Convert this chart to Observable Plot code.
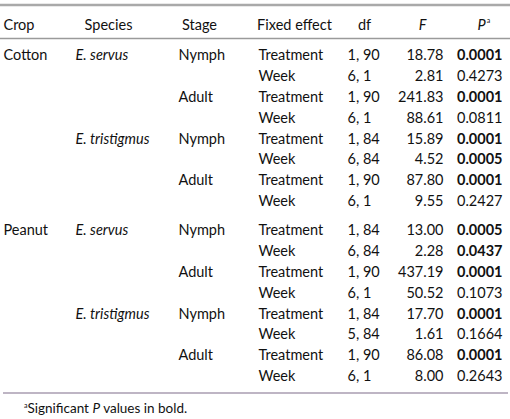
<!DOCTYPE html>
<html>
<head>
<meta charset="utf-8">
<script src="https://cdn.jsdelivr.net/npm/d3@7"></script>
<script src="https://cdn.jsdelivr.net/npm/@observablehq/plot@0.6"></script>
<style>
  html, body { margin: 0; padding: 0; background: #fff; }
  #chart svg { display: block; }
  #note { font-family: Lato, sans-serif; font-size: 13.5px; color: #111; line-height: 16px; padding-left: 24px; }
  #note sup { font-size: 7px; vertical-align: 5px; line-height: 0; }
</style>
</head>
<body>
<div id="chart"></div>
<div id="note"><sup>a</sup>Significant <i>P</i> values in bold.</div>
<script>
// ---- data ----
const headers = ["Crop", "Species", "Stage", "Fixed effect", "df", "F", "P"];
const crops = ["Cotton", "Peanut"];
const species = ["E. servus", "E. tristigmus"];
const stages = ["Nymph", "Adult"];
const effects = ["Treatment", "Week"];
const dfValues = ["1, 90", "6, 1", "1, 90", "6, 1", "1, 84", "6, 84", "1, 90", "6, 1",
                  "1, 84", "6, 84", "1, 90", "6, 1", "1, 84", "5, 84", "1, 90", "6, 1"];
const fValues = [18.78, 2.81, 241.83, 88.61, 15.89, 4.52, 87.80, 9.55,
                 13.00, 2.28, 437.19, 50.52, 17.70, 1.61, 86.08, 8.00];
const pValues = [0.0001, 0.4273, 0.0001, 0.0811, 0.0001, 0.0005, 0.0001, 0.2427,
                 0.0005, 0.0437, 0.0001, 0.1073, 0.0001, 0.1664, 0.0001, 0.2643];
const alpha = 0.05;

// ---- layout (styles / positions) ----
const W = 510;
const cropGap = 0.39;            // extra row-units between crop groups
const col = {crop: 3, species: 75, stage: 178, effect: 258, df: 347, F: 443, P: 502};
const headCenter = {Crop: 3, Species: 108, Stage: 199, "Fixed effect": 294, df: 364, F: 422, P: 481};
const yHeader = -1.45, yTopRule = -2.42, yHeadRule = -0.815, yBottomRule = 16.18;

// ---- build table rows ----
const rows = [];
crops.forEach((c, ci) => species.forEach((s, si) => stages.forEach((g, gi) => effects.forEach((e, ei) => {
  const i = ci * 8 + si * 4 + gi * 2 + ei;
  rows.push({
    i, y: i + ci * cropGap,
    crop: (si === 0 && gi === 0 && ei === 0) ? c : "",
    species: (gi === 0 && ei === 0) ? s : "",
    stage: ei === 0 ? g : "",
    effect: e, df: dfValues[i], F: fValues[i].toFixed(2), P: pValues[i].toFixed(4),
    sig: pValues[i] < alpha
  });
}))));
const headRows = headers.map(h => ({h}));
const headLeft = headRows.filter(d => d.h === "Crop");
const headPlain = headRows.filter(d => d.h !== "Crop" && d.h !== "F" && d.h !== "P");
const headItalic = headRows.filter(d => d.h === "F" || d.h === "P");

const txt = "#111";
const fs = 14.5;

const chart = Plot.plot({
  width: W, height: 400, margin: 0,
  x: {domain: [0, W], range: [0, W], axis: null},
  y: {domain: [0, 15 + cropGap], range: [55, 376], axis: null},
  style: {fontFamily: "Lato, sans-serif", fontSize: fs + "px", color: txt, background: "#fff"},
  marks: [
    Plot.ruleY([yTopRule], {x1: () => 0, x2: () => W, stroke: "#a9a9a9", strokeWidth: 2.5}),
    Plot.ruleY([yHeadRule], {x1: () => 0, x2: () => W, stroke: "#9a9a9a", strokeWidth: 1.5}),
    Plot.ruleY([yBottomRule], {x1: () => 3, x2: () => 508, stroke: "#a99cb0", strokeWidth: 1.5}),
    // header
    Plot.text(headLeft, {x: d => headCenter[d.h], y: () => yHeader, text: "h", textAnchor: "start", fill: txt, fontSize: fs}),
    Plot.text(headPlain, {x: d => headCenter[d.h], y: () => yHeader, text: "h", textAnchor: "middle", fill: txt, fontSize: fs}),
    Plot.text(headItalic, {x: d => headCenter[d.h], y: () => yHeader, text: "h", textAnchor: "middle", fill: txt, fontSize: fs, fontStyle: "italic"}),
    Plot.text(["a"], {x: () => headCenter.P, y: () => yHeader, text: d => d, dx: 7, dy: -5, fontSize: 7, fill: txt}),
    // body
    Plot.text(rows, {x: () => col.crop, y: "y", text: "crop", textAnchor: "start", fill: txt, fontSize: fs}),
    Plot.text(rows, {x: () => col.species, y: "y", text: "species", textAnchor: "start", fill: txt, fontSize: fs, fontStyle: "italic"}),
    Plot.text(rows, {x: () => col.stage, y: "y", text: "stage", textAnchor: "start", fill: txt, fontSize: fs}),
    Plot.text(rows, {x: () => col.effect, y: "y", text: "effect", textAnchor: "start", fill: txt, fontSize: fs}),
    Plot.text(rows, {x: () => col.df, y: "y", text: "df", textAnchor: "start", fill: txt, fontSize: fs}),
    Plot.text(rows, {x: () => col.F, y: "y", text: "F", textAnchor: "end", fill: txt, fontSize: fs}),
    Plot.text(rows.filter(d => !d.sig), {x: () => col.P, y: "y", text: "P", textAnchor: "end", fill: txt, fontSize: fs}),
    Plot.text(rows.filter(d => d.sig), {x: () => col.P, y: "y", text: "P", textAnchor: "end", fill: txt, fontSize: fs, fontWeight: "bold"})
  ]
});
document.getElementById("chart").appendChild(chart);
</script>
</body>
</html>
